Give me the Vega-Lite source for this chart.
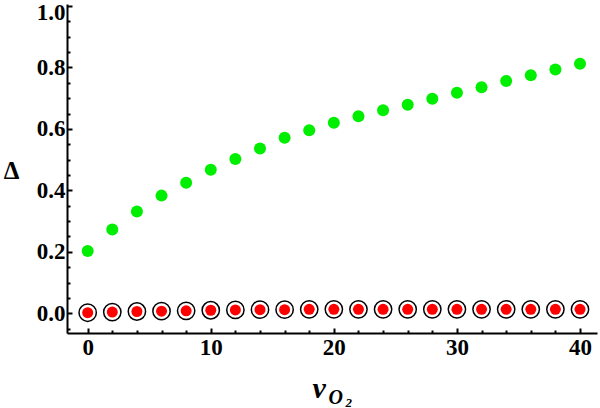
{
  "$schema": "https://vega.github.io/schema/vega-lite/v6.json",
  "autosize": {"type": "none"},
  "padding": {"left": 67, "top": 4, "right": 3, "bottom": 75},
  "width": 530,
  "height": 329,
  "background": "white",
  "config": {
    "view": {"stroke": null},
    "style": {"guide-label": {"fontSize": 23, "font": "Liberation Serif", "fontWeight": "bold", "fill": "black"}},
    "axis": {
      "domainColor": "black",
      "domainWidth": 2,
      "tickColor": "black",
      "tickWidth": 2,
      "grid": false,
      "labelFont": "Liberation Serif",
      "labelFontWeight": "bold",
      "labelFontSize": 23,
      "labelColor": "black",
      "titleFont": "Liberation Serif",
      "titleFontWeight": "bold",
      "titleColor": "black"
    }
  },
  "data": {
    "values": [
      {"x": 0, "green": 0.203, "red": 0.002},
      {"x": 2, "green": 0.273, "red": 0.004},
      {"x": 4, "green": 0.331, "red": 0.006},
      {"x": 6, "green": 0.383, "red": 0.007},
      {"x": 8, "green": 0.425, "red": 0.008},
      {"x": 10, "green": 0.467, "red": 0.010},
      {"x": 12, "green": 0.502, "red": 0.011},
      {"x": 14, "green": 0.536, "red": 0.012},
      {"x": 16, "green": 0.571, "red": 0.012},
      {"x": 18, "green": 0.596, "red": 0.013},
      {"x": 20, "green": 0.620, "red": 0.013},
      {"x": 22, "green": 0.641, "red": 0.013},
      {"x": 24, "green": 0.661, "red": 0.013},
      {"x": 26, "green": 0.679, "red": 0.013},
      {"x": 28, "green": 0.698, "red": 0.013},
      {"x": 30, "green": 0.718, "red": 0.013},
      {"x": 32, "green": 0.736, "red": 0.013},
      {"x": 34, "green": 0.756, "red": 0.013},
      {"x": 36, "green": 0.775, "red": 0.013},
      {"x": 38, "green": 0.793, "red": 0.013},
      {"x": 40, "green": 0.812, "red": 0.013}
    ]
  },
  "resolve": {"axis": {"x": "independent", "y": "independent"}},
  "layer": [
    {
      "mark": {"type": "point", "shape": "circle", "filled": false, "fill": "white", "fillOpacity": 1, "stroke": "black", "strokeWidth": 1.5, "size": 300, "opacity": 1},
      "encoding": {
        "x": {"field": "x", "type": "quantitative",
          "scale": {"domain": [-1.68, 41.38], "nice": false, "zero": false},
          "axis": {"orient": "bottom", "values": [0, 10, 20, 30, 40], "tickSize": -5, "labelPadding": 8, "labelFlush": false,
            "labelFontSize": 23,
            "title": "v", "titleFontSize": 30, "titleFontStyle": "italic", "titleAlign": "left", "titleAnchor": null, "titleBaseline": "alphabetic", "titleY": 64, "titleX": 245}},
        "y": {"field": "red", "type": "quantitative",
          "scale": {"domain": [-0.064, 1.0065], "nice": false, "zero": false},
          "axis": {"orient": "left", "values": [0, 0.2, 0.4, 0.6, 0.8, 1.0], "format": ".1f", "tickSize": -5, "labelPadding": 7, "labelFlush": false,
            "labelFontSize": 23,
            "labelOffset": {"condition": {"test": "datum.value == 1", "value": 7}, "value": 0},
            "title": "Δ", "titleFontSize": 25, "titleAngle": 0, "titleAlign": "center", "titleBaseline": "middle", "titleX": -56, "titleY": 166}}
      }
    },
    {
      "mark": {"type": "point", "shape": "circle", "filled": true, "color": "#ff0000", "size": 121, "opacity": 1},
      "encoding": {
        "x": {"field": "x", "type": "quantitative",
          "axis": {"orient": "bottom", "values": [2, 4, 6, 8, 12, 14, 16, 18, 22, 24, 26, 28, 32, 34, 36, 38], "tickSize": -3, "labels": false, "domain": false,
            "title": "O", "titleFontSize": 20, "titleFontStyle": "italic", "titleAlign": "left", "titleAnchor": null, "titleBaseline": "alphabetic", "titleY": 70, "titleX": 261}},
        "y": {"field": "red", "type": "quantitative",
          "axis": {"orient": "left", "values": [-0.05, 0.05, 0.1, 0.15, 0.25, 0.3, 0.35, 0.45, 0.5, 0.55, 0.65, 0.7, 0.75, 0.85, 0.9, 0.95], "tickSize": -3, "labels": false, "domain": false, "title": null}}
      }
    },
    {
      "mark": {"type": "point", "shape": "circle", "filled": true, "color": "#00ee00", "size": 144, "opacity": 1},
      "encoding": {
        "x": {"field": "x", "type": "quantitative",
          "axis": {"orient": "bottom", "ticks": false, "labels": false, "domain": false,
            "title": "2", "titleFontSize": 13, "titleFontStyle": "italic", "titleAlign": "left", "titleAnchor": null, "titleBaseline": "alphabetic", "titleY": 73, "titleX": 278}},
        "y": {"field": "green", "type": "quantitative", "axis": null}
      }
    }
  ]
}
